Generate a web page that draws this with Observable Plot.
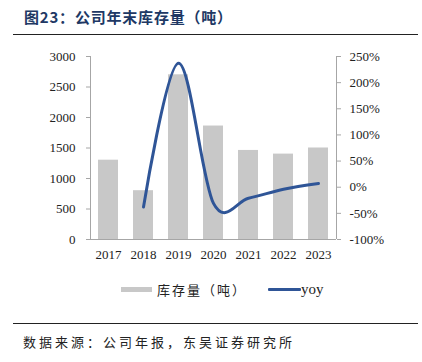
<!DOCTYPE html>
<html><head><meta charset="utf-8">
<script src="https://cdn.jsdelivr.net/npm/d3@7"></script>
<script src="https://cdn.jsdelivr.net/npm/@observablehq/plot@0.6"></script>
<style>
body{margin:0;background:#fff;}
#wrap{position:relative;width:422px;height:362px;overflow:hidden;font-family:"Noto Sans CJK SC",sans-serif;color:#222;}
#title{position:absolute;left:24px;top:6px;font-size:15px;font-weight:bold;color:#203864;letter-spacing:0.8px;white-space:nowrap;}
.hr{position:absolute;left:13px;width:405px;height:0;border-top:1.5px solid #222;}
#chart{position:absolute;left:0;top:40px;}
#chart svg text{font-family:"Liberation Serif","Times New Roman","DejaVu Serif",serif;}
#legend{position:absolute;top:280px;left:121px;display:flex;align-items:center;font-size:13px;}
.swbar{display:inline-block;width:31px;height:5px;background:#c8c8c8;margin-right:5px;}
.swline{display:inline-block;width:33px;height:3px;background:#2f5597;margin-left:21px;border-radius:1px;}
#lg1{letter-spacing:2px;}
.yoy{font-family:"Liberation Serif","Times New Roman","DejaVu Serif",serif;font-size:15px;}
#source{position:absolute;left:23px;top:332px;font-size:13px;letter-spacing:3px;white-space:nowrap;}
</style></head>
<body>
<div id="wrap">
  <div id="title"></div>
  <div class="hr" style="top:34px"></div>
  <div id="chart"></div>
  <div id="legend"><span class="swbar"></span><span id="lg1"></span><span class="swline"></span><span class="yoy" id="lg2"></span></div>
  <div class="hr" style="top:323px"></div>
  <div id="source"></div>
</div>
<script>
const titleText = "图23：公司年末库存量（吨）";
const sourceText = "数据来源：公司年报，东吴证券研究所";
const seriesNames = ["库存量（吨）", "yoy"];
const years = ["2017","2018","2019","2020","2021","2022","2023"];
const inventory = [1300, 800, 2700, 1860, 1460, 1400, 1500];
const yoyYears = ["2018","2019","2020","2021","2022","2023"];
const yoyValues = [-38, 237, -31, -21, -4, 7];
const leftTicks = [0, 500, 1000, 1500, 2000, 2500, 3000];
const rightTicks = [-100, -50, 0, 50, 100, 150, 200, 250];

document.getElementById("title").textContent = titleText;
document.getElementById("source").textContent = sourceText;
document.getElementById("lg1").textContent = seriesNames[0];
document.getElementById("lg2").textContent = seriesNames[1];

const leftMin = leftTicks[0], leftMax = leftTicks[leftTicks.length-1];
const rMin = rightTicks[0], rMax = rightTicks[rightTicks.length-1];
const toLeft = v => leftMin + (v - rMin) / (rMax - rMin) * (leftMax - leftMin);
const fromLeft = y => rMin + (y - leftMin) / (leftMax - leftMin) * (rMax - rMin);

const bars = years.map((y, i) => ({year: y, value: inventory[i]}));
const line = yoyYears.map((y, i) => ({year: y, yoy: yoyValues[i]}));

const axisLines = (index, scales, values, dims) => {
  const {marginLeft: l, marginRight: r, marginTop: t, marginBottom: b, width: w, height: h} = dims;
  const g = d3.create("svg:g").attr("stroke", "#a6a6a6").attr("stroke-width", 1).attr("shape-rendering", "crispEdges");
  g.append("line").attr("x1", l).attr("x2", l).attr("y1", t).attr("y2", h - b);
  g.append("line").attr("x1", w - r).attr("x2", w - r).attr("y1", t).attr("y2", h - b);
  g.append("line").attr("x1", l).attr("x2", w - r).attr("y1", h - b).attr("y2", h - b);
  return g.node();
};

const chart = Plot.plot({
  width: 422, height: 230,
  marginLeft: 90, marginRight: 86, marginTop: 16, marginBottom: 31,
  style: {fontFamily: "Liberation Serif, serif", fontSize: "13px", color: "#222", background: "transparent"},
  x: {domain: years, paddingInner: 0.43, paddingOuter: 0.215, label: null},
  y: {domain: [leftMin, leftMax], label: null},
  marks: [
    Plot.barY(bars, {x: "year", y: "value", fill: "#c8c8c8"}),
    axisLines,
    Plot.axisY(leftTicks, {anchor: "left", tickSize: 4, tickPadding: 11, stroke: "#a6a6a6", tickFormat: d => String(d), label: null}),
    Plot.axisY(rightTicks.map(toLeft), {anchor: "right", tickSize: 4, tickPadding: 9, stroke: "#a6a6a6", tickFormat: d => Math.round(fromLeft(d)) + "%", label: null}),
    Plot.axisX({tickSize: 0, tickPadding: 10, label: null}),
    Plot.line(line, {x: "year", y: d => toLeft(d.yoy), stroke: "#2f5597", strokeWidth: 3, curve: "cardinal"})
  ]
});
document.getElementById("chart").appendChild(chart);
</script>
</body></html>
